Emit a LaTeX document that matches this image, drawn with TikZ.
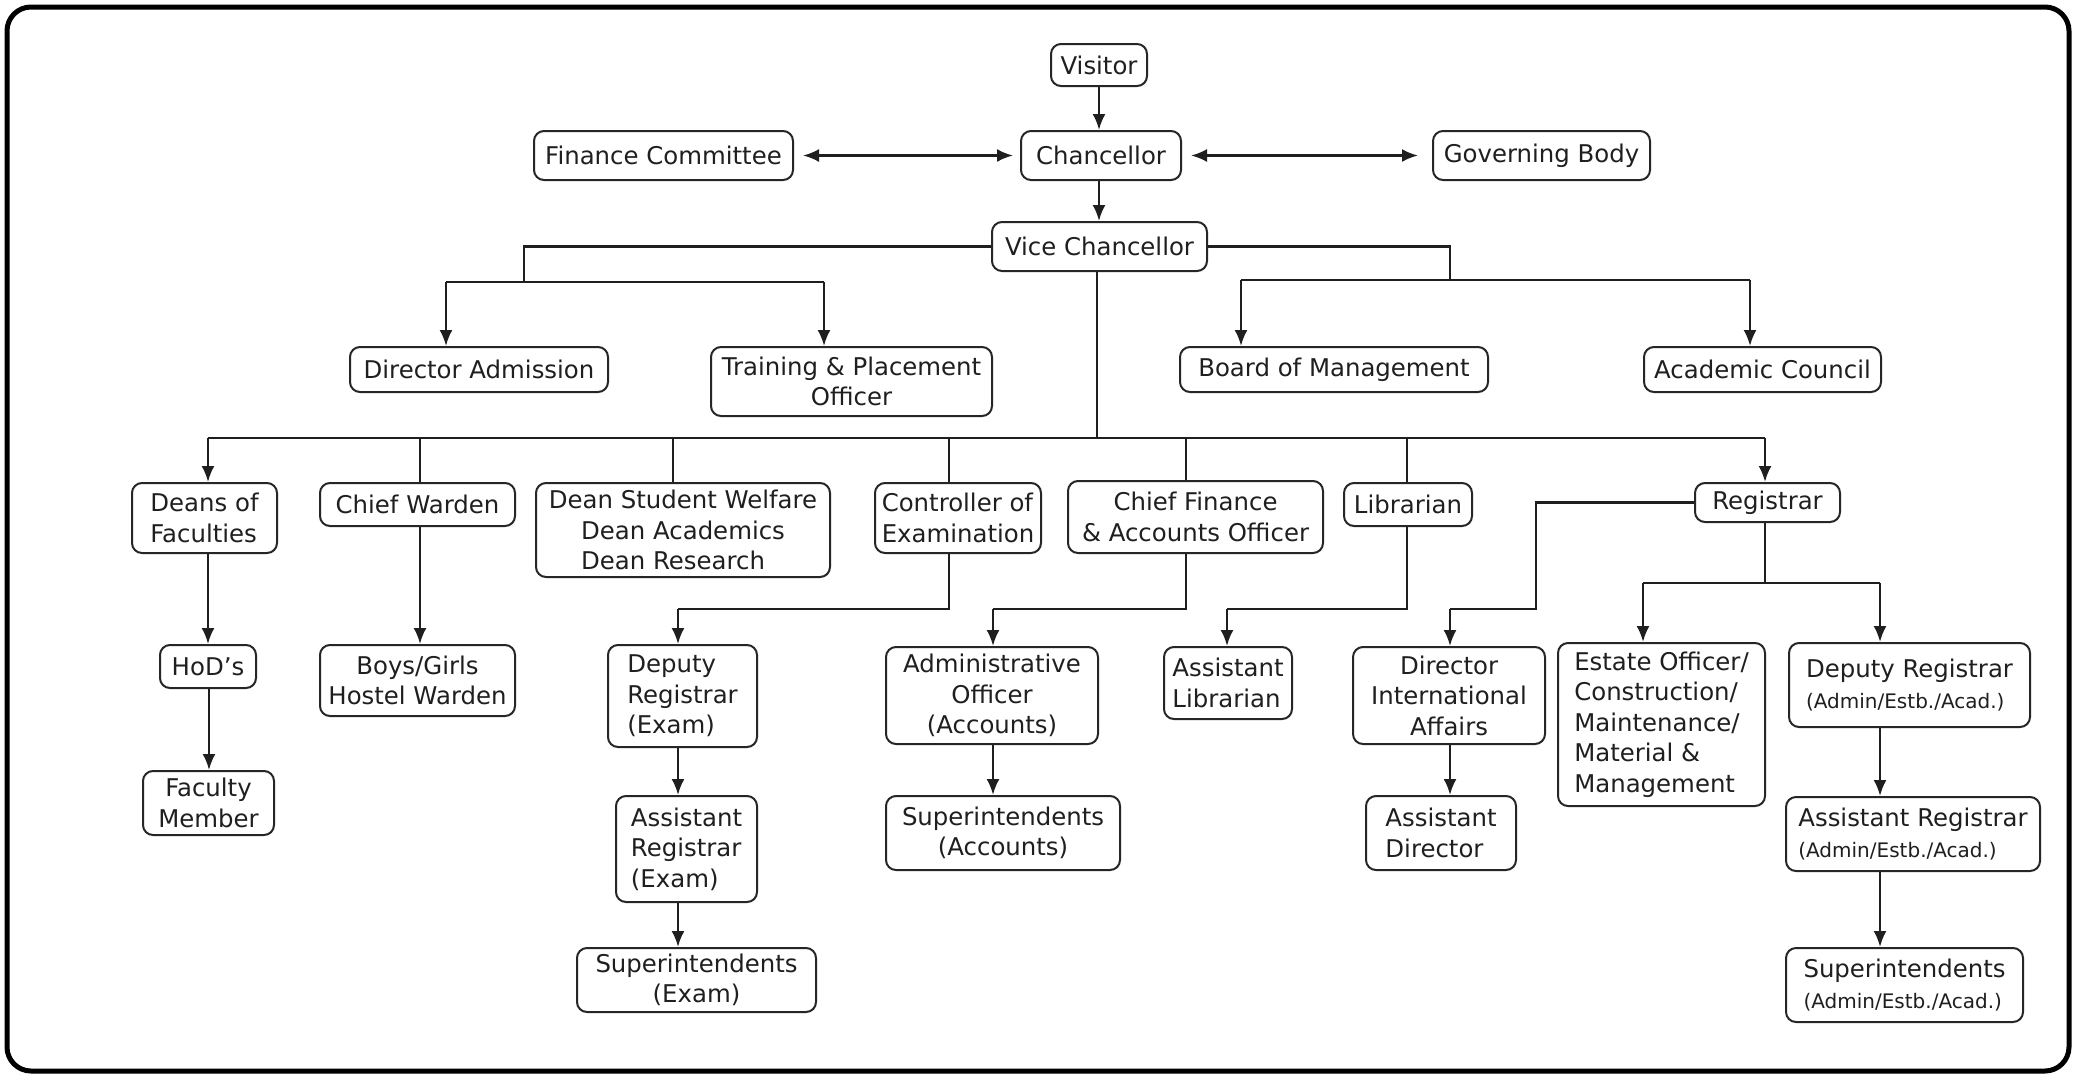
\documentclass[tikz,border=0pt]{standalone}
\usepackage{fontspec}
\setmainfont{DejaVu Sans}
\usepackage{calc}
\usetikzlibrary{arrows.meta,calc}
\newcommand{\smalltxt}[1]{{\fontsize{10}{15.2}\selectfont #1}}
\begin{document}
\begin{tikzpicture}[x=0.5pt,y=-0.5pt,
  box/.style={draw=black!85, line width=1pt, rounded corners=5pt, inner sep=0pt,
    font=\fontsize{12.2}{15.2}\selectfont, text=black!88, align=center},
  lbox/.style={box, align=left},
  sz/.style 2 args={minimum width=#1*0.5pt, minimum height=#2*0.5pt},
  arr/.style={-{Latex[length=8pt,width=6.5pt]}, line width=1.2pt, draw=black!88},
  ln/.style={line width=1.2pt, draw=black!88},
  dbl/.style={{Latex[length=8pt,width=6.5pt]}-{Latex[length=8pt,width=6.5pt]}, line width=1.2pt, draw=black!88}]
\useasboundingbox (0,0) rectangle (2076,1076);
\fill[white] (0,0) rectangle (2076,1076);
\draw[line width=2.5pt, rounded corners=12pt] (7,7) rectangle (2069,1071);

% top
\node[box, sz={96}{42}] (vis) at (1099,65) {Visitor};
\node[box, sz={160}{49}] (chan) at (1101,155.5) {Chancellor};
\node[box, sz={259}{49}] (fin) at (663.5,155.5) {Finance Committee};
\node[box, sz={217}{49}] (gov) at (1541.5,155.5) {Governing Body};
\node[box, sz={215}{49}] (vc) at (1099.5,246.5) {Vice Chancellor};
% second level
\node[box, sz={258}{45}] (dadm) at (479,369.5) {Director Admission};
\node[box, sz={281}{69}] (tpo) at (851.5,381.5) {Training \& Placement\\Officer};
\node[box, sz={308}{45}] (bom) at (1334,369.5) {Board of Management};
\node[box, sz={237}{45}] (ac) at (1762.5,369.5) {Academic Council};
% third level
\node[lbox, sz={145}{70}] (dof) at (204.5,518) {Deans of\\Faculties};
\node[box, sz={195}{43}] (cw) at (417.5,504.5) {Chief Warden};
\node[box, sz={294}{94}] (dsw) at (683,530) {Dean Student Welfare\\Dean Academics\\\makebox[\widthof{Dean Academics}][l]{Dean Research}};
\node[lbox, sz={166}{70}] (coe) at (958,518) {Controller of\\Examination};
\node[box, sz={255}{72}] (cfa) at (1195.5,517) {Chief Finance\\\& Accounts Officer};
\node[box, sz={128}{43}] (lib) at (1408,504.5) {Librarian};
\node[box, sz={145}{39}] (reg) at (1767.5,502.5) {Registrar};
% fourth level
\node[box, sz={96}{43}] (hod) at (208,666.5) {HoD’s};
\node[box, sz={195}{71}] (bgw) at (417.5,680.5) {Boys/Girls\\Hostel Warden};
\node[lbox, sz={149}{102}] (dre) at (682.5,696) {Deputy\\Registrar\\(Exam)};
\node[box, sz={212}{97}] (ao) at (992,695.5) {Administrative\\Officer\\(Accounts)};
\node[lbox, sz={128}{72}] (al) at (1228,683) {Assistant\\Librarian};
\node[box, sz={192}{97}] (dia) at (1449,695.5) {Director\\International\\Affairs};
\node[lbox, sz={207}{163}] (eo) at (1661.5,724.5) {Estate Officer/\\Construction/\\Maintenance/\\Material \&\\Management};
\node[lbox, sz={241}{84}] (dra) at (1909.5,685) {Deputy Registrar\\\smalltxt{(Admin/Estb./Acad.)}};
% fifth level
\node[box, sz={131}{64}] (fm) at (208.5,803) {Faculty\\Member};
\node[lbox, sz={141}{106}] (are) at (686.5,849) {Assistant\\Registrar\\(Exam)};
\node[box, sz={234}{74}] (sa) at (1003,833) {Superintendents\\(Accounts)};
\node[lbox, sz={150}{74}] (ad) at (1441,833) {Assistant\\Director};
\node[lbox, sz={254}{74}] (ara) at (1913,834) {Assistant Registrar\\\smalltxt{(Admin/Estb./Acad.)}};
% sixth level
\node[box, sz={239}{64}] (se) at (696.5,980) {Superintendents\\(Exam)};
\node[lbox, sz={237}{74}] (sad) at (1904.5,985) {Superintendents\\\smalltxt{(Admin/Estb./Acad.)}};

% top connectors
\coordinate (tx) at (1099,0);
\draw[arr] (tx |- vis.south) -- (tx |- chan.north);
\draw[dbl, shorten <=4.5pt, shorten >=3.5pt] (fin.east) -- (chan.west);
\draw[dbl, shorten <=4.5pt, shorten >=7pt] (chan.east) -- (gov.west);
\draw[arr] (tx |- chan.south) -- (tx |- vc.north);

% VC left branch
\coordinate (lb) at (524,282);
\coordinate (la) at (446,282);
\coordinate (lt) at (824,282);
\draw[ln] (vc.west) -| (lb);
\draw[ln] (la) -- (lt);
\draw[arr] (la) -- (la |- dadm.north);
\draw[arr] (lt) -- (lt |- tpo.north);
% VC right branch
\coordinate (rb) at (1450,280);
\coordinate (ra) at (1241,280);
\coordinate (rt) at (1750,280);
\draw[ln] (vc.east) -| (rb);
\draw[ln] (ra) -- (rt);
\draw[arr] (ra) -- (ra |- bom.north);
\draw[arr] (rt) -- (rt |- ac.north);

% main bus
\coordinate (bm) at (1097,438);
\coordinate (bl) at (208,438);
\coordinate (br) at (1765,438);
\draw[ln] (bm |- vc.south) -- (bm);
\draw[ln] (bl) -- (br);
\draw[arr] (bl) -- (bl |- dof.north);
\draw[arr] (br) -- (br |- reg.north);
\coordinate (s1) at (420,438);
\coordinate (s2) at (673,438);
\coordinate (s3) at (949,438);
\coordinate (s4) at (1186,438);
\coordinate (s5) at (1407,438);
\draw[ln] (s1) -- (s1 |- cw.north);
\draw[ln] (s2) -- (s2 |- dsw.north);
\draw[ln] (s3) -- (s3 |- coe.north);
\draw[ln] (s4) -- (s4 |- cfa.north);
\draw[ln] (s5) -- (s5 |- lib.north);

% deans column
\draw[arr] (bl |- dof.south) -- (bl |- hod.north);
\coordinate (hx) at (209,0);
\draw[arr] (hx |- hod.south) -- (hx |- fm.north);
% chief warden
\draw[arr] (s1 |- cw.south) -- (s1 |- bgw.north);

% controller branch
\coordinate (c1) at (949,609);
\coordinate (c2) at (678,609);
\draw[ln] (s3 |- coe.south) -- (c1) -- (c2);
\draw[arr] (c2) -- (c2 |- dre.north);
\draw[arr] (c2 |- dre.south) -- (c2 |- are.north);
\draw[arr] (c2 |- are.south) -- (c2 |- se.north);

% finance branch
\coordinate (f1) at (1186,609);
\coordinate (f2) at (993,609);
\draw[ln] (s4 |- cfa.south) -- (f1) -- (f2);
\draw[arr] (f2) -- (f2 |- ao.north);
\draw[arr] (f2 |- ao.south) -- (f2 |- sa.north);

% librarian branch
\coordinate (l1) at (1407,609);
\coordinate (l2) at (1227,609);
\draw[ln] (s5 |- lib.south) -- (l1) -- (l2);
\draw[arr] (l2) -- (l2 |- al.north);

% registrar to director international
\coordinate (g1) at (1536,505);
\coordinate (g2) at (1536,609);
\coordinate (g3) at (1450,609);
\draw[ln] (reg.west) -- (g1 |- reg.west) -- (g2) -- (g3);
\draw[arr] (g3) -- (g3 |- dia.north);
\draw[arr] (g3 |- dia.south) -- (g3 |- ad.north);

% registrar lower bus
\coordinate (q0) at (1765,583);
\coordinate (q1) at (1643,583);
\coordinate (q2) at (1880,583);
\draw[ln] (br |- reg.south) -- (q0);
\draw[ln] (q1) -- (q2);
\draw[arr] (q1) -- (q1 |- eo.north);
\draw[arr] (q2) -- (q2 |- dra.north);
\draw[arr] (q2 |- dra.south) -- (q2 |- ara.north);
\draw[arr] (q2 |- ara.south) -- (q2 |- sad.north);
\end{tikzpicture}
\end{document}
